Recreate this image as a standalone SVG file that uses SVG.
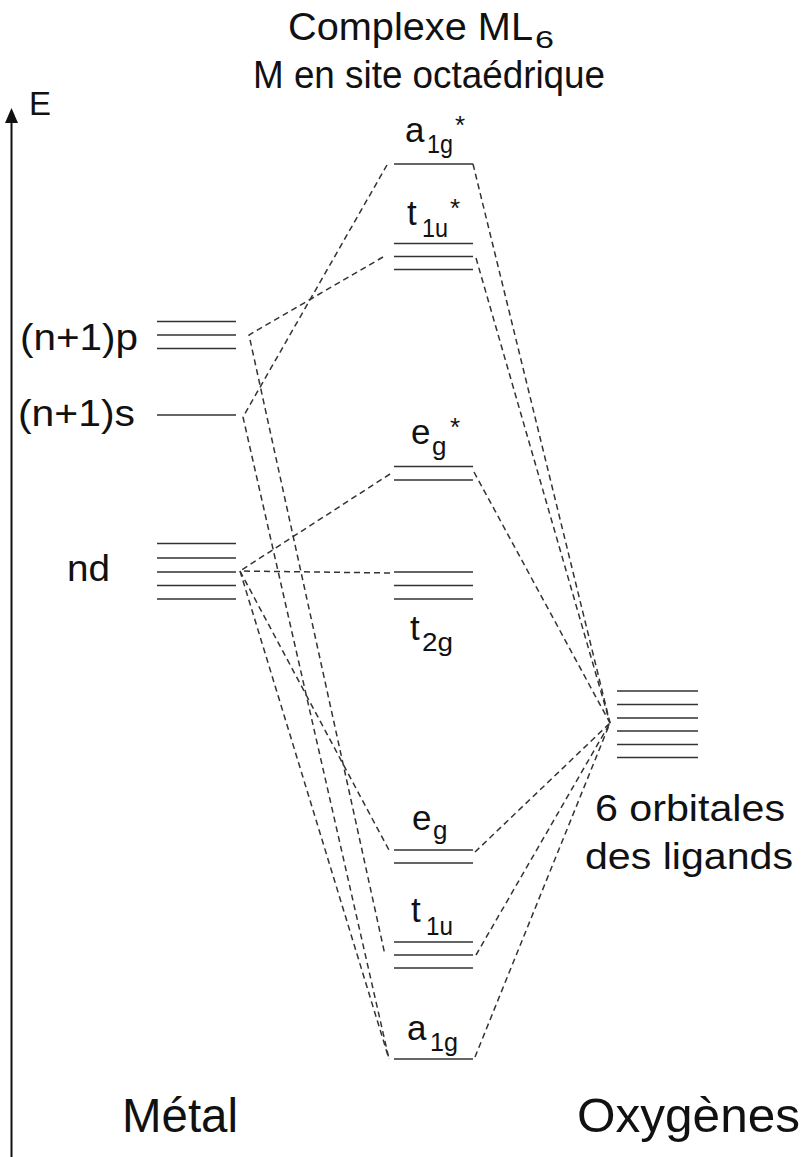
<svg xmlns="http://www.w3.org/2000/svg" width="806" height="1157" viewBox="0 0 806 1157">
<style>
text{font-family:"Liberation Sans",Arial,sans-serif;fill:#111}
.lvl{stroke:#333;stroke-width:1.6;fill:none}
.cn{stroke:#333;stroke-width:1.5;stroke-dasharray:6 4;fill:none}
.m{font-size:35px}
.s{font-size:26px}
.big{font-size:37px}
</style>
<rect width="806" height="1157" fill="#fff"/>
<g id="title">
<text x="288" y="40" font-size="39" textLength="245" lengthAdjust="spacingAndGlyphs">Complexe ML</text>
<text x="535" y="48" font-size="24" textLength="19" lengthAdjust="spacingAndGlyphs">6</text>
<text x="253" y="88" font-size="39" textLength="352" lengthAdjust="spacingAndGlyphs">M en site octaédrique</text>
</g>
<g id="axis">
<line x1="11.5" y1="1157" x2="11.5" y2="120" stroke="#111" stroke-width="2"/>
<polygon points="11.5,108 5,123 18,123" fill="#111"/>
<text x="29" y="115" font-size="33" textLength="22" lengthAdjust="spacingAndGlyphs">E</text>
</g>
<g id="metal-np">
<text x="20" y="350" class="big" textLength="118" lengthAdjust="spacingAndGlyphs">(n+1)p</text>
<path class="lvl" d="M157 321.5H236M157 335H236M157 348.5H236"/>
</g>
<g id="metal-ns">
<text x="18" y="426" class="big" textLength="117" lengthAdjust="spacingAndGlyphs">(n+1)s</text>
<path class="lvl" d="M157 415H236"/>
</g>
<g id="metal-nd">
<text x="67" y="581" class="big" textLength="43" lengthAdjust="spacingAndGlyphs">nd</text>
<path class="lvl" d="M157 543.5H236M157 558H236M157 572H236M157 585.5H236M157 599H236"/>
</g>
<g id="mo-a1g-star">
<text x="405" y="142" class="m">a</text>
<text x="427" y="153" class="s" textLength="26" lengthAdjust="spacingAndGlyphs">1g</text>
<text x="455" y="134" class="s">*</text>
<path class="lvl" d="M394 164H473"/>
</g>
<g id="mo-t1u-star">
<text x="407" y="225" class="m">t</text>
<text x="422" y="237" class="s" textLength="26" lengthAdjust="spacingAndGlyphs">1u</text>
<text x="450" y="217" class="s">*</text>
<path class="lvl" d="M394 243.5H473M394 256.5H473M394 269.5H473"/>
</g>
<g id="mo-eg-star">
<text x="411" y="444" class="m">e</text>
<text x="432" y="455" class="s">g</text>
<text x="450" y="436" class="s">*</text>
<path class="lvl" d="M394 466.5H473M394 480H473"/>
</g>
<g id="mo-t2g">
<path class="lvl" d="M394 572H473M394 585.5H473M394 599H473"/>
<text x="410" y="640" class="m">t</text>
<text x="422" y="651" class="s" textLength="31" lengthAdjust="spacingAndGlyphs">2g</text>
</g>
<g id="mo-eg">
<text x="412" y="830" class="m">e</text>
<text x="433" y="839" class="s">g</text>
<path class="lvl" d="M394 850H473M394 863H473"/>
</g>
<g id="mo-t1u">
<text x="411" y="922" class="m">t</text>
<text x="426" y="935" class="s" textLength="27" lengthAdjust="spacingAndGlyphs">1u</text>
<path class="lvl" d="M394 942H473M394 955H473M394 968H473"/>
</g>
<g id="mo-a1g">
<text x="407" y="1040" class="m">a</text>
<text x="430" y="1051" class="s" textLength="28" lengthAdjust="spacingAndGlyphs">1g</text>
<path class="lvl" d="M394 1059H473"/>
</g>
<g id="ligands">
<path class="lvl" d="M617 691H698M617 704.5H698M617 718H698M617 731H698M617 744.5H698M617 757.5H698"/>
<text x="595" y="821" font-size="37" textLength="190" lengthAdjust="spacingAndGlyphs">6 orbitales</text>
<text x="585" y="869" font-size="37" textLength="208" lengthAdjust="spacingAndGlyphs">des ligands</text>
</g>
<g id="labels">
<text x="122" y="1132" font-size="48" textLength="116" lengthAdjust="spacingAndGlyphs">Métal</text>
<text x="577" y="1132" font-size="48" textLength="223" lengthAdjust="spacingAndGlyphs">Oxygènes</text>
</g>
<g id="connectors">
<path class="cn" d="M383 257L249 335L385 955"/>
<path class="cn" d="M387 165L243 417L389 1059"/>
<path class="cn" d="M390 474L240 571"/>
<path class="cn" d="M390 573L240 571"/>
<path class="cn" d="M240 571L390 852"/>
<path class="cn" d="M240 571L389 1059"/>
<path class="cn" d="M473 164L610 723"/>
<path class="cn" d="M476 258L610 723"/>
<path class="cn" d="M474 472L610 723"/>
<path class="cn" d="M475 852L610 723"/>
<path class="cn" d="M476 955L610 723"/>
<path class="cn" d="M475 1057L610 723"/>
</g>
</svg>
